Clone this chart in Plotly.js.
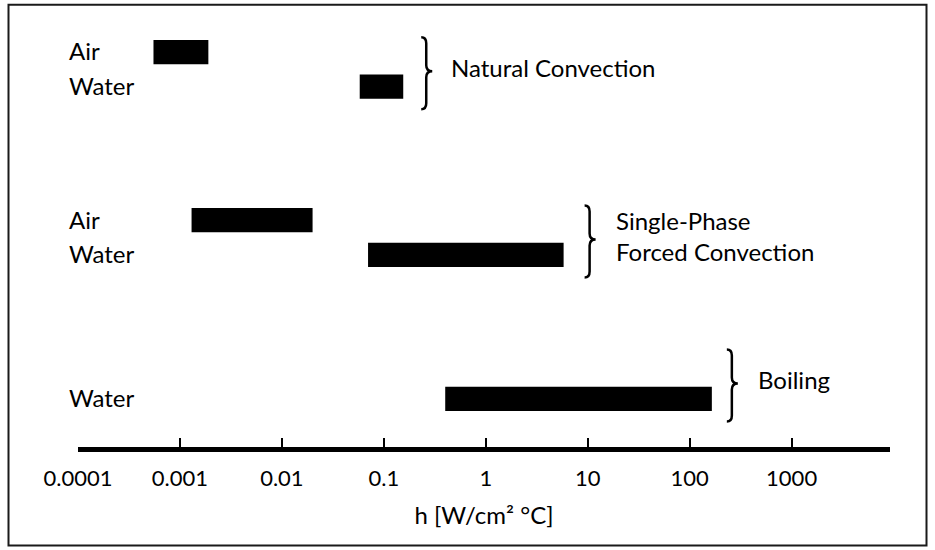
<!DOCTYPE html>
<html><head><meta charset="utf-8">
<script src="https://cdn.plot.ly/plotly-3.0.1.min.js"></script>
<style>html,body{margin:0;padding:0;background:#fff}</style>
</head><body><div id="chart" style="width:935px;height:550px"></div>
<script>
// ---- data ----
const rowLabels = ["Air", "Water", "Air", "Water", "Water"];
const rowGroup  = [0, 0, 1, 1, 2];
const hLow      = [0.00055, 0.058, 0.0013, 0.07, 0.4];
const hHigh     = [0.0019, 0.155, 0.02, 5.8, 165];
const groupNames = ["Natural Convection", "Single-Phase<br>Forced Convection", "Boiling"];
const tickVals  = [0.0001, 0.001, 0.01, 0.1, 1, 10, 100, 1000];
const tickText  = ["0.0001", "0.001", "0.01", "0.1", "1", "10", "100", "1000"];
const xTitle    = "h [W/cm² °C]";

// ---- layout constants (positions / styles) ----
const W = 935, H = 550;
const rowPos = [0, 1, 4.85, 5.85, 10];
const groupCenter = [0.5, 5.35, 9.5];
const braceDx = [18, 21, 15];
const textDx = [46, 50, 44];
const xRange = [-4, 3.965];
const xDom = [78 / W, 890 / W];
const plotBottom = 447;
const yRange = [11.39, -1.5];
const FONT = "Lato, 'Open Sans', sans-serif";

const groupMax = [0, 1, 2].map(g => Math.max(...hHigh.filter((v, i) => rowGroup[i] === g)));

const bars = {
  type: "bar", orientation: "h",
  y: rowPos,
  base: hLow,
  x: hHigh.map((v, i) => v - hLow[i]),
  width: 0.7,
  marker: { color: "#000", line: { width: 0 } },
  xaxis: "x", yaxis: "y", hoverinfo: "skip", showlegend: false
};
const helper = {
  type: "scatter", mode: "markers",
  x: hHigh.map(v => Math.log10(v)), y: rowPos,
  marker: { opacity: 0, size: 1 },
  xaxis: "x2", yaxis: "y", hoverinfo: "skip", showlegend: false
};

function bracePath(dx) {
  const a = dx, m = dx + 5, t = dx + 11;
  return `M${a},32 Q${m},32 ${m},26 L${m},4 Q${m},-2 ${t},-2 Q${m},-2 ${m},-8 L${m},-34 Q${m},-40 ${a},-40`;
}

const shapes = [
  { type: "rect", xref: "paper", yref: "paper",
    x0: 8.5 / W, x1: 926.5 / W, y0: 1 - 4.8 / plotBottom, y1: 1 - 545.5 / plotBottom,
    line: { color: "#1a1a1a", width: 2 }, fillcolor: "rgba(0,0,0,0)" }
];
const annotations = [];
groupNames.forEach((name, g) => {
  shapes.push({
    type: "path", xref: "x2", yref: "y",
    xsizemode: "pixel", ysizemode: "pixel",
    xanchor: Math.log10(groupMax[g]), yanchor: groupCenter[g],
    path: bracePath(braceDx[g]),
    line: { color: "#000", width: 2.5 }
  });
  annotations.push({
    xref: "x2", yref: "y",
    x: Math.log10(groupMax[g]), y: groupCenter[g],
    xanchor: "left", yanchor: "middle", xshift: textDx[g], yshift: 2,
    text: name, showarrow: false, align: "left",
    font: { family: FONT, size: 24, color: "#000" }
  });
});

const layout = {
  width: W, height: H,
  margin: { l: 0, r: 0, t: 0, b: H - plotBottom, pad: 0 },
  paper_bgcolor: "#fff", plot_bgcolor: "#fff",
  font: { family: FONT, color: "#000" },
  showlegend: false,
  xaxis: {
    type: "log", range: xRange, domain: xDom, anchor: "y",
    tickmode: "array", tickvals: tickVals, ticktext: tickText,
    ticks: "", showline: true, linewidth: 5, linecolor: "#000",
    showgrid: false, zeroline: false, automargin: false,
    tickfont: { family: FONT, size: 22, color: "#000" },
    ticklabelstandoff: 8,
    title: { text: xTitle, font: { family: FONT, size: 24, color: "#000" }, standoff: 18 }
  },
  xaxis2: {
    type: "linear", range: xRange, domain: xDom, anchor: "y", overlaying: "x",
    tickmode: "array", tickvals: [-3, -2, -1, 0, 1, 2, 3],
    ticks: "inside", ticklen: 9, tickwidth: 2, tickcolor: "#000",
    showticklabels: false, showline: false, showgrid: false, zeroline: false
  },
  yaxis: {
    range: yRange, domain: [0, 1], anchor: "free", position: 68 / W, side: "right",
    tickmode: "array", tickvals: rowPos, ticktext: rowLabels,
    ticks: "", showline: false, showgrid: false, zeroline: false, automargin: false,
    tickfont: { family: FONT, size: 24, color: "#000" }
  },
  shapes: shapes,
  annotations: annotations
};

Plotly.newPlot("chart", [bars, helper], layout, { displayModeBar: false, staticPlot: true });
</script>
</body></html>
